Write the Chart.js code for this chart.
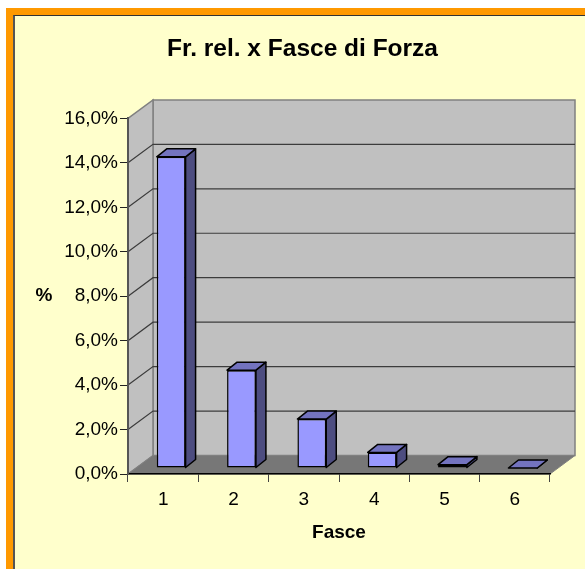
<!DOCTYPE html>
<html>
<head>
<meta charset="utf-8">
<style>
  html, body { margin: 0; padding: 0; background: #fff; overflow: hidden; }
  #frame { position: absolute; left: 6px; top: 8px; width: 579px; height: 561px; box-sizing: border-box;
           background: #FFFFCC; border-left: 7px solid #FF9900; border-top: 7px solid #FF9900; }
  #line { position: absolute; left: 0; top: 0; right: 0; bottom: 0; border-left: 2px solid #555; border-top: 1px solid #333; }
  #chart { position: absolute; left: 0; top: 0; }
</style>
<script src="https://cdn.jsdelivr.net/npm/chart.js@4"></script>
</head>
<body>
<div id="frame"><div id="line"></div></div>
<canvas id="chart" width="585" height="569"></canvas>
<script>
var fasce = ["1", "2", "3", "4", "5", "6"];
var frequenze = [14.0, 4.4, 2.2, 0.7, 0.15, 0];
var titolo = "Fr. rel. x Fasce di Forza";
var titoloX = "Fasce";
var titoloY = "%";

// depth of the box and of the bars
var depthX = 25, depthY = 18.5;
var barX = 8, barY = 6;
var sideX = 10, sideY = 8;

var fontName = "'Liberation Sans', Arial, sans-serif";

function poly(ctx, pts, fill, stroke, width) {
  ctx.beginPath();
  ctx.moveTo(pts[0][0], pts[0][1]);
  for (var i = 1; i < pts.length; i++) ctx.lineTo(pts[i][0], pts[i][1]);
  ctx.closePath();
  if (fill) { ctx.fillStyle = fill; ctx.fill(); }
  if (stroke) { ctx.strokeStyle = stroke; ctx.lineWidth = width; ctx.stroke(); }
}

var box3d = {
  id: "box3d",
  afterLayout: function (chart) {
    // the title sits a bit right of the middle in the original
    chart.titleBlock.left += 9.5;
    chart.titleBlock.right += 9.5;
  },
  beforeDraw: function (chart) {
    var ctx = chart.ctx, a = chart.chartArea, y = chart.scales.y;
    var l = a.left, r = a.right, t = a.top, b = a.bottom;
    ctx.save();
    // back wall, left wall, floor
    poly(ctx, [[l + depthX, t - depthY], [r + depthX, t - depthY], [r + depthX, b - depthY], [l + depthX, b - depthY]], "#C0C0C0", "#808080", 1.5);
    poly(ctx, [[l, t], [l + depthX, t - depthY], [l + depthX, b - depthY], [l, b]], "#C0C0C0", "#808080", 1.5);
    poly(ctx, [[l, b], [l + depthX, b - depthY], [r + depthX, b - depthY], [r, b]], "#777777", "#808080", 1);
    // grid lines around the walls
    ctx.strokeStyle = "#3c3c3c";
    ctx.lineWidth = 1.2;
    y.ticks.forEach(function (tick) {
      if (tick.value === 0 || tick.value === y.max) return;
      var py = y.getPixelForValue(tick.value);
      ctx.beginPath();
      ctx.moveTo(l, py);
      ctx.lineTo(l + depthX, py - depthY);
      ctx.lineTo(r + depthX, py - depthY);
      ctx.stroke();
    });
    ctx.restore();
  },
  beforeDatasetsDraw: function (chart) {
    var ctx = chart.ctx;
    ctx.save();
    ctx.translate(barX, -barY);
    ctx.lineJoin = "round";
    chart.getDatasetMeta(0).data.forEach(function (bar) {
      var x1 = bar.x - bar.width / 2, x2 = bar.x + bar.width / 2;
      var top = bar.y, base = bar.base;
      poly(ctx, [[x2, top], [x2 + sideX, top - sideY], [x2 + sideX, base - sideY], [x2, base]], "#4D4D80", "#000", 1.5);
      poly(ctx, [[x1, top], [x1 + sideX, top - sideY], [x2 + sideX, top - sideY], [x2, top]], "#7373BF", "#000", 1.5);
    });
  },
  afterDatasetsDraw: function (chart) {
    chart.ctx.restore();
  },
  afterDraw: function (chart) {
    // the y title stays horizontal in the original, the library would rotate it
    var ctx = chart.ctx, a = chart.chartArea;
    ctx.save();
    ctx.font = "bold 19px " + fontName;
    ctx.fillStyle = "#000";
    ctx.textAlign = "center";
    ctx.textBaseline = "middle";
    ctx.fillText(titoloY, 44, (a.top + a.bottom) / 2);
    ctx.restore();
  }
};

new Chart(document.getElementById("chart"), {
  type: "bar",
  data: {
    labels: fasce,
    datasets: [{
      data: frequenze,
      backgroundColor: "#9999FF",
      borderColor: "#000",
      borderWidth: 1.5,
      borderSkipped: false,
      barPercentage: 0.41,
      categoryPercentage: 1,
      clip: false
    }]
  },
  options: {
    responsive: false,
    animation: false,
    layout: { padding: { left: 36, right: 35, top: 35, bottom: 25 } },
    plugins: {
      legend: { display: false },
      tooltip: { enabled: false },
      title: {
        display: true,
        text: titolo,
        color: "#000",
        font: { family: fontName, size: 24.5, weight: "bold" },
        padding: { top: 0, bottom: 54 }
      }
    },
    scales: {
      x: {
        border: { color: "#000", width: 1.5 },
        grid: { drawOnChartArea: false, color: "#444", tickLength: 8 },
        ticks: { color: "#000", font: { family: fontName, size: 19 }, padding: 6, maxRotation: 0 },
        title: { display: true, text: titoloX, color: "#000", font: { family: fontName, size: 19, weight: "bold" }, padding: { top: 4.4, bottom: 0 } }
      },
      y: {
        min: 0,
        max: 16,
        afterFit: function (scale) { scale.width = 92; },
        border: { color: "#555", width: 2 },
        grid: { drawOnChartArea: false, color: "#222", tickLength: 8 },
        ticks: {
          stepSize: 2,
          color: "#000",
          font: { family: fontName, size: 19 },
          padding: 2,
          callback: function (v) { return v.toFixed(1).replace(".", ",") + "%"; }
        }
      }
    }
  },
  plugins: [box3d]
});
</script>
</body>
</html>
